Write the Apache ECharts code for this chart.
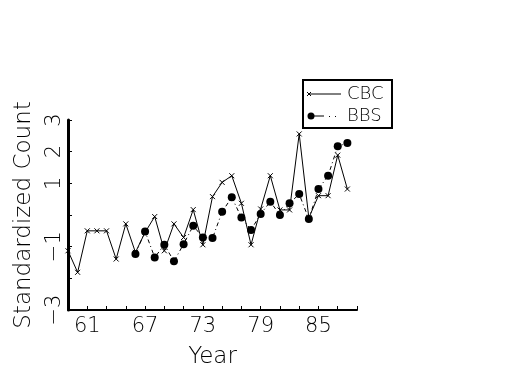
<!DOCTYPE html>
<html>
<head>
<meta charset="utf-8">
<script src="https://cdn.jsdelivr.net/npm/echarts@6/dist/echarts.min.js"></script>
<style>html,body{margin:0;padding:0;background:#fff;}#c{width:525px;height:375px;}</style>
</head>
<body>
<div id="c"></div>
<script>
// Two-digit years on the x axis (59 .. 89)
var years = ['59','60','61','62','63','64','65','66','67','68','69','70','71','72','73','74',
             '75','76','77','78','79','80','81','82','83','84','85','86','87','88','89'];
var xLabelYears = ['61','67','73','79','85'];
// CBC standardized counts, 1959..1988
var cbc = [-1.13,-1.81,-0.50,-0.50,-0.50,-1.39,-0.28,-1.18,-0.55,-0.05,-1.13,-0.28,-0.71,0.17,-0.94,
           0.58,1.03,1.24,0.37,-0.94,0.19,1.24,0.16,0.16,2.56,-0.09,0.61,0.61,1.89,0.82];
// BBS standardized counts, 1959..1988 (starts 1966)
var bbs = [null,null,null,null,null,null,null,-1.23,-0.52,-1.34,-0.94,-1.46,-0.92,-0.34,-0.71,
           -0.73,0.10,0.56,-0.08,-0.47,0.03,0.42,0.00,0.37,0.66,-0.13,0.82,1.24,2.17,2.27];
var yLabelValues = [3,2,1,-1,-3];

var FONT = 'DejaVu Sans';
var chart = echarts.init(document.getElementById('c'), null, {renderer:'canvas'});
var crossPath = 'path://M0,0L10,10M10,0L0,10';
chart.setOption({
  animation:false,
  backgroundColor:'#fff',
  grid:{left:68, right:168, top:120, bottom:65},
  xAxis:{
    type:'category', data:years, boundaryGap:false,
    name:'Year', nameLocation:'middle', nameGap:36,
    nameTextStyle:{fontFamily:FONT, fontSize:23, fontWeight:200, color:'#000'},
    axisLine:{onZero:false, lineStyle:{color:'#000', width:2}},
    axisTick:{inside:true, length:4, lineStyle:{color:'#000', width:1},
      interval:function(i){return i%2===0;}},
    axisLabel:{fontFamily:FONT, fontSize:21, fontWeight:200, color:'#000', margin:6,
      interval:function(i,v){return xLabelYears.indexOf(v)>=0;}},
    splitLine:{show:false}
  },
  yAxis:{
    type:'value', min:-3, max:3, interval:1,
    name:'Standardized Count', nameLocation:'middle', nameRotate:90, nameGap:32,
    nameTextStyle:{fontFamily:FONT, fontSize:23, fontWeight:200, color:'#000'},
    axisLine:{show:true, onZero:false, lineStyle:{color:'#000', width:3}},
    axisTick:{show:true, inside:true, length:4, lineStyle:{color:'#000', width:1}},
    axisLabel:{fontFamily:FONT, fontSize:21, fontWeight:200, color:'#000', rotate:90, margin:3,
      formatter:function(v){return yLabelValues.indexOf(v)>=0 ? String(v).replace('-','\u2212') : '';}},
    splitLine:{show:false}
  },
  graphic:[
    {type:'rect', shape:{x:303, y:80, width:89, height:48}, style:{fill:'#fff', stroke:'#000', lineWidth:2}, z:10},
    {type:'line', shape:{x1:309, y1:94, x2:341, y2:94}, style:{stroke:'#000', lineWidth:1}, z:11},
    {type:'line', shape:{x1:307, y1:92, x2:311, y2:96}, style:{stroke:'#000', lineWidth:1}, z:11},
    {type:'line', shape:{x1:311, y1:92, x2:307, y2:96}, style:{stroke:'#000', lineWidth:1}, z:11},
    {type:'text', x:347, y:94, style:{text:'CBC', fontFamily:FONT, fontSize:18, fontWeight:200, fill:'#000', textVerticalAlign:'middle'}, z:11},
    {type:'circle', shape:{cx:311, cy:116, r:3.5}, style:{fill:'#000'}, z:11},
    {type:'line', shape:{x1:311, y1:116, x2:324, y2:116}, style:{stroke:'#000', lineWidth:1}, z:11},
    {type:'rect', shape:{x:329, y:116, width:1, height:1}, style:{fill:'#000'}, z:11},
    {type:'rect', shape:{x:335, y:116, width:1, height:1}, style:{fill:'#000'}, z:11},
    {type:'text', x:347, y:116, style:{text:'BBS', fontFamily:FONT, fontSize:18, fontWeight:200, fill:'#000', textVerticalAlign:'middle'}, z:11}
  ],
  series:[
    {name:'CBC', type:'line', data:cbc, symbol:crossPath, symbolSize:5, showAllSymbol:true,
      lineStyle:{color:'#000', width:1},
      itemStyle:{color:'#000', borderColor:'#000', borderWidth:1}},
    {name:'BBS', type:'line', data:bbs, symbol:'circle', symbolSize:8, showAllSymbol:true, connectNulls:false,
      lineStyle:{color:'#000', width:1, type:[4,3,1,3]},
      itemStyle:{color:'#000'}}
  ]
});
</script>
</body>
</html>
